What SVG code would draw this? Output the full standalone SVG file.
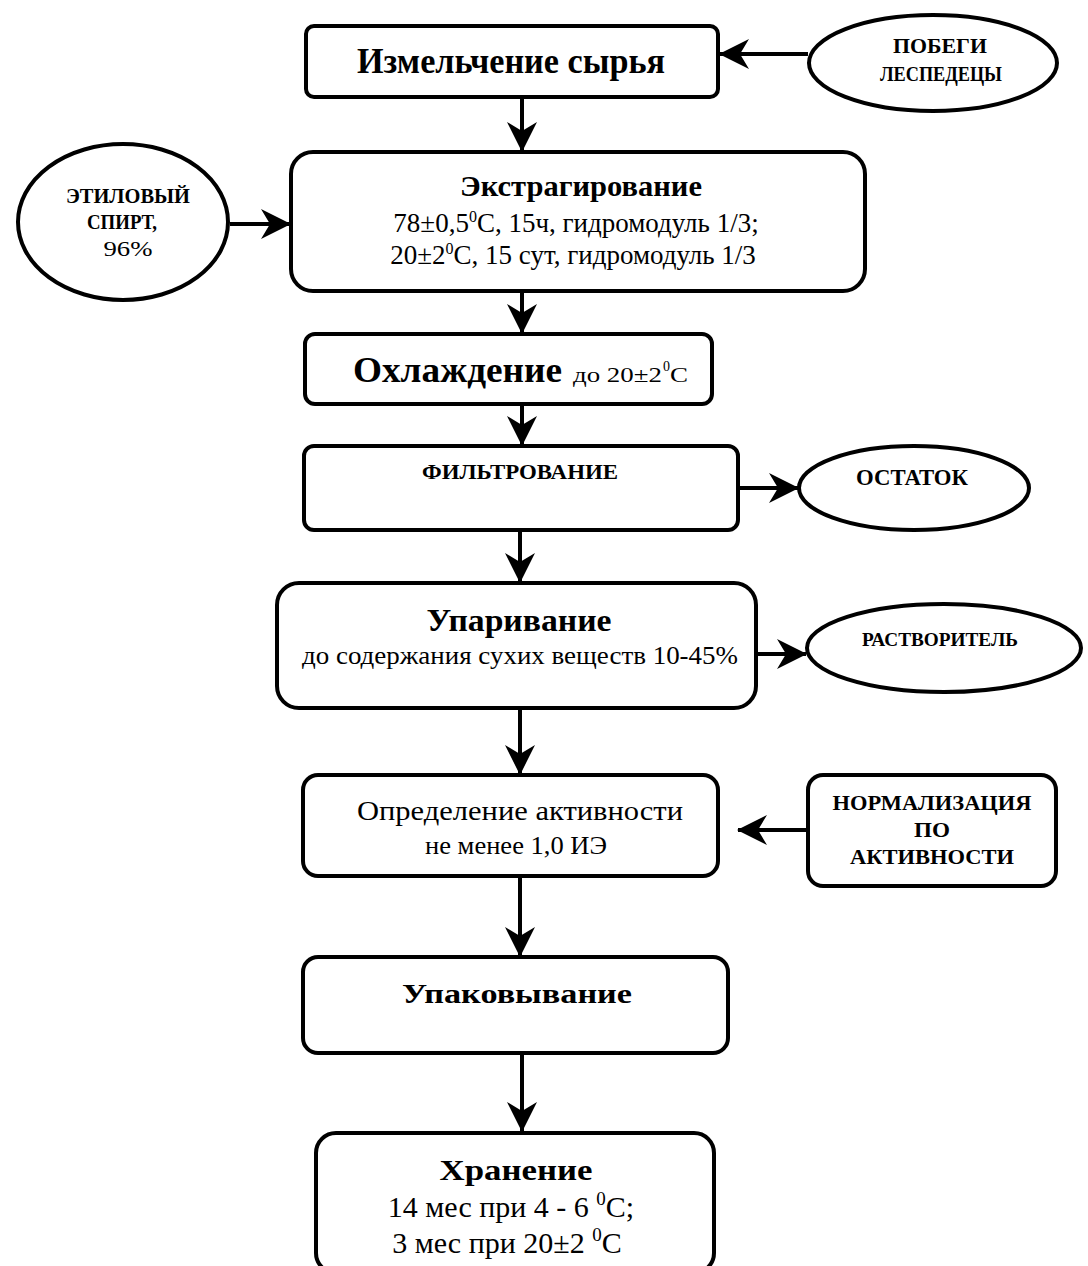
<svg xmlns="http://www.w3.org/2000/svg" width="1088" height="1266" viewBox="0 0 1088 1266">
<defs>
<marker id="ah" viewBox="0 0 30 30" refX="29" refY="15" markerWidth="30" markerHeight="30" markerUnits="userSpaceOnUse" orient="auto">
<path d="M0,0 L30,15 L0,30 L9,15 z" fill="#000"/>
</marker>
<style>
.box{fill:#fff;stroke:#000;stroke-width:4}
.con line{stroke:#000;stroke-width:4;marker-end:url(#ah)}
text{font-family:"Liberation Serif","Times New Roman",serif;fill:#000;text-anchor:middle}
.b{font-weight:bold}
.s{text-anchor:start}
</style>
</defs>
<rect width="1088" height="1266" fill="#fff"/>
<g class="con">
<line x1="808" y1="54" x2="720" y2="54"/>
<line x1="522" y1="98" x2="522" y2="151"/>
<line x1="230" y1="224" x2="290" y2="224"/>
<line x1="522" y1="292" x2="522" y2="333"/>
<line x1="522" y1="405" x2="522" y2="445"/>
<line x1="740" y1="488" x2="798" y2="488"/>
<line x1="520" y1="531" x2="520" y2="582"/>
<line x1="757" y1="654" x2="806" y2="654"/>
<line x1="520" y1="709" x2="520" y2="774"/>
<line x1="808" y1="830" x2="738" y2="830"/>
<line x1="520" y1="877" x2="520" y2="956"/>
<line x1="522" y1="1054" x2="522" y2="1131"/>
</g>
<g id="n1"><rect class="box" x="306" y="26" width="412" height="71" rx="8"/>
<text class="b" x="511" y="73" font-size="36" textLength="308" lengthAdjust="spacingAndGlyphs">Измельчение сырья</text></g>
<g id="e1"><ellipse class="box" cx="933" cy="63" rx="124" ry="48"/>
<text class="b" x="940" y="53" font-size="21" textLength="94" lengthAdjust="spacingAndGlyphs">ПОБЕГИ</text>
<text class="b" x="941" y="81" font-size="21" textLength="122" lengthAdjust="spacingAndGlyphs">ЛЕСПЕДЕЦЫ</text></g>
<g id="n2"><rect class="box" x="291" y="152" width="574" height="139" rx="22"/>
<text class="b" x="581" y="196" font-size="29" textLength="242" lengthAdjust="spacingAndGlyphs">Экстрагирование</text>
<text x="576" y="232" font-size="27">78±0,5<tspan font-size="16" dy="-10">0</tspan><tspan dy="10">С, 15ч, гидромодуль 1/3;</tspan></text>
<text x="573" y="264" font-size="27">20±2<tspan font-size="16" dy="-10">0</tspan><tspan dy="10">С, 15 сут, гидромодуль 1/3</tspan></text></g>
<g id="e2"><ellipse class="box" cx="123" cy="222" rx="105" ry="78"/>
<text class="b" x="128" y="203" font-size="21" textLength="124" lengthAdjust="spacingAndGlyphs">ЭТИЛОВЫЙ</text>
<text class="b" x="122" y="229" font-size="21" textLength="70" lengthAdjust="spacingAndGlyphs">СПИРТ,</text>
<text x="128" y="256" font-size="22" textLength="49" lengthAdjust="spacingAndGlyphs">96%</text></g>
<g id="n3"><rect class="box" x="305" y="334" width="407" height="70" rx="10"/>
<text class="b s" x="353" y="382" font-size="36" textLength="209" lengthAdjust="spacingAndGlyphs">Охлаждение</text>
<text class="s" x="573" y="382" font-size="22" textLength="89" lengthAdjust="spacingAndGlyphs">до 20±2</text>
<text class="s" x="663" y="371" font-size="14">0</text>
<text class="s" x="670" y="382" font-size="22" textLength="18" lengthAdjust="spacingAndGlyphs">С</text></g>
<g id="n4"><rect class="box" x="304" y="446" width="434" height="84" rx="10"/>
<text class="b" x="520" y="479" font-size="21" textLength="196" lengthAdjust="spacingAndGlyphs">ФИЛЬТРОВАНИЕ</text></g>
<g id="e3"><ellipse class="box" cx="914" cy="488" rx="115" ry="42"/>
<text class="b" x="912" y="485" font-size="23" textLength="112" lengthAdjust="spacingAndGlyphs">ОСТАТОК</text></g>
<g id="n5"><rect class="box" x="277" y="583" width="479" height="125" rx="22"/>
<text class="b" x="519" y="631" font-size="31" textLength="185" lengthAdjust="spacingAndGlyphs">Упаривание</text>
<text x="520" y="664" font-size="26" textLength="436" lengthAdjust="spacingAndGlyphs">до содержания сухих веществ 10-45%</text></g>
<g id="e4"><ellipse class="box" cx="944" cy="648" rx="137" ry="44"/>
<text class="b" x="940" y="646" font-size="18" textLength="156" lengthAdjust="spacingAndGlyphs">РАСТВОРИТЕЛЬ</text></g>
<g id="n6"><rect class="box" x="303" y="775" width="415" height="101" rx="15"/>
<text x="520" y="820" font-size="28" textLength="326" lengthAdjust="spacingAndGlyphs">Определение активности</text>
<text x="516" y="854" font-size="25" textLength="182" lengthAdjust="spacingAndGlyphs">не менее 1,0 ИЭ</text></g>
<g id="n7"><rect class="box" x="808" y="775" width="248" height="111" rx="15"/>
<text class="b" x="932" y="810" font-size="22" textLength="199" lengthAdjust="spacingAndGlyphs">НОРМАЛИЗАЦИЯ</text>
<text class="b" x="932" y="837" font-size="22" textLength="36" lengthAdjust="spacingAndGlyphs">ПО</text>
<text class="b" x="932" y="864" font-size="22" textLength="164" lengthAdjust="spacingAndGlyphs">АКТИВНОСТИ</text></g>
<g id="n8"><rect class="box" x="303" y="957" width="425" height="96" rx="15"/>
<text class="b" x="517" y="1003" font-size="28" textLength="230" lengthAdjust="spacingAndGlyphs">Упаковывание</text></g>
<g id="n9"><rect class="box" x="316" y="1133" width="398" height="140" rx="20"/>
<text class="b" x="516" y="1180" font-size="29" textLength="153" lengthAdjust="spacingAndGlyphs">Хранение</text>
<text x="511" y="1217" font-size="30">14 мес при 4 - 6 <tspan font-size="19" dy="-12">0</tspan><tspan dy="12">С;</tspan></text>
<text x="507" y="1253" font-size="30">3 мес при 20±2 <tspan font-size="19" dy="-12">0</tspan><tspan dy="12">С</tspan></text></g>
</svg>
